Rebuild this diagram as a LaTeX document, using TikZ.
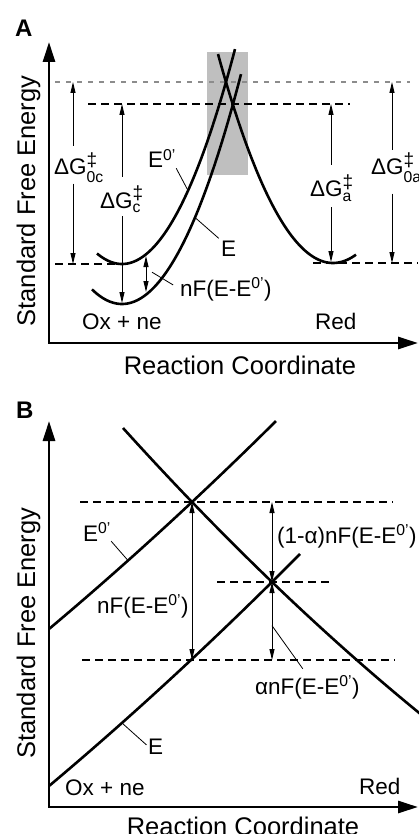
\documentclass[tikz,border=0pt]{standalone}
\usepackage{amsmath}
\usepackage{fontspec}
\setmainfont{Liberation Sans}
\definecolor{boxgray}{RGB}{191,191,191}
\definecolor{linegray}{RGB}{140,140,140}
\usetikzlibrary{arrows.meta,calc}
\newcommand{\dagg}{\mbox{\fontsize{19}{19}\selectfont ‡}}

\begin{document}
\begin{tikzpicture}[x=1pt,y=-1pt]
  \tikzstyle{axisline}=[line width=2.8pt,{Triangle[length=20pt,width=12pt]}-{Triangle[length=20pt,width=12pt]}]
  \tikzstyle{curve}=[line width=2.6pt]
  \tikzstyle{dgarrow}=[line width=1pt,-{Triangle[length=11pt,width=5pt]}]
  \tikzstyle{dblarrow}=[line width=1pt,{Triangle[length=11pt,width=5pt]}-{Triangle[length=11pt,width=5pt]}]
  \tikzstyle{lvl}=[line width=1.2pt,dash pattern=on 8pt off 5pt]
  \tikzstyle{lvlgray}=[line width=1.2pt,draw=linegray,dash pattern=on 5pt off 6pt]
  \tikzstyle{leader}=[line width=0.8pt]
  \tikzstyle{lbl}=[font=\fontsize{22.5}{27}\selectfont,inner sep=0pt,anchor=base west]
  \tikzstyle{axlbl}=[font=\fontsize{25.5}{30}\selectfont,inner sep=0pt,anchor=base]
  \tikzstyle{panel}=[font=\fontsize{24}{28}\selectfont\bfseries,inner sep=0pt,anchor=base west]

  \useasboundingbox (0,0) rectangle (418,834);

  % panel A
  \node[panel] (labA) at (15,37) {A};
  \node[fill=boxgray,inner sep=0pt,minimum width=41pt,minimum height=123pt] (crossbox) at (227.5,113.5) {};

  \coordinate (oA) at (49,343);
  \coordinate (yA) at (49,42);
  \coordinate (xA) at (418,343);
  \draw[axisline] (yA) -- (oA) -- (xA);

  \draw[lvlgray] (55,82) -- (410,82);
  \draw[lvl] (88,104) -- (350,104);
  \draw[lvl] (55,264) -- (128,264);
  \draw[lvl] (313,263) -- (418,263);

  \draw[curve] plot[domain=97:235,samples=80] (\x,{264-168.3*((\x-122)/100)^2});
  \draw[curve] plot[domain=92:241,samples=80] (\x,{304-162.3*((\x-122)/100)^2});
  \draw[curve] plot[domain=218:356,samples=80] (\x,{263-158*((\x-333)/100)^2});

  \node[lbl] (dg0c) at (54,175) {ΔG$^{\dagg}_{\text{0c}}$};
  \coordinate (dg0ctop) at (73,82);
  \coordinate (dg0cbot) at (73,264);
  \draw[dgarrow,shorten <=7pt] (dg0c.north -| dg0ctop) -- (dg0ctop);
  \draw[dgarrow,shorten <=1pt] (dg0c.south -| dg0cbot) -- (dg0cbot);

  \node[lbl] (dgc) at (100,208) {ΔG$^{\dagg}_{\text{c}}$};
  \coordinate (dgctop) at (122,104);
  \coordinate (dgcbot) at (122,303);
  \draw[dgarrow,shorten <=9pt] (dgc.north -| dgctop) -- (dgctop);
  \draw[dgarrow,shorten <=3pt] (dgc.south -| dgcbot) -- (dgcbot);

  \node[lbl] (dga) at (310,197) {ΔG$^{\dagg}_{\text{a}}$};
  \coordinate (dgatop) at (331,104);
  \coordinate (dgabot) at (331,262);
  \draw[dgarrow,shorten <=10pt] (dga.north -| dgatop) -- (dgatop);
  \draw[dgarrow,shorten <=5pt] (dga.south -| dgabot) -- (dgabot);

  \node[lbl] (dg0a) at (371,175) {ΔG$^{\dagg}_{\text{0a}}$};
  \coordinate (dg0atop) at (392,82);
  \coordinate (dg0abot) at (392,263);
  \draw[dgarrow,shorten <=3pt] (dg0a.north -| dg0atop) -- (dg0atop);
  \draw[dgarrow,shorten <=11pt] (dg0a.south -| dg0abot) -- (dg0abot);

  \node[lbl] (e0A) at (148,168) {E$^{\text{0’}}$};
  \coordinate (e0Apt) at (188,190.5);
  \draw[leader] (e0A.south east) -- (e0Apt);

  \node[lbl] (eA) at (221,256) {E};
  \coordinate (eApt) at (195,217.5);
  \draw[leader,shorten >=3pt] (eApt) -- (eA.north west);

  \node[lbl] (nfA) at (180,296) {nF(E-E$^{\text{0’}}$)};
  \coordinate (nfAtop) at (146,256);
  \coordinate (nfAbot) at (146,292);
  \draw[dblarrow] (nfAtop) -- (nfAbot);
  \draw[leader,shorten >=8pt] ($(nfAtop)!0.45!(nfAbot)+(6,0)$) -- (nfA.west);

  \node[lbl] (oxA) at (82,329) {Ox + ne};
  \node[lbl] (redA) at (315,329) {Red};
  \node[axlbl] (rcA) at (240,374) {Reaction Coordinate};
  \node[axlbl,rotate=90] (sfeA) at (35,201) {Standard Free Energy};

  % panel B
  \node[panel] (labB) at (16,418) {B};

  \coordinate (oB) at (49,807);
  \coordinate (yB) at (49,421);
  \coordinate (xB) at (418,807);
  \draw[axisline] (yB) -- (oB) -- (xB);

  \draw[lvl] (80,502) -- (393,502);
  \draw[lvl] (217,582) -- (331,582);
  \draw[lvl] (82,660) -- (395,660);

  \draw[curve] plot[domain=49:276,samples=60] (\x,{629-0.84*(\x-49)-3.36*((\x-49)/100)^2});
  \draw[curve] plot[domain=49:300,samples=60] (\x,{786-0.84*(\x-49)-3.36*((\x-49)/100)^2});
  \draw[curve] plot[domain=123:420,samples=60] (\x,{502+1.0388*(\x-192)-4.85*((\x-192)/100)^2});

  \coordinate (cr1) at (192,502);
  \coordinate (lo1) at (192,660);
  \coordinate (hi2) at (272,502);
  \coordinate (cr2) at (272,582);
  \coordinate (lo2) at (272,660);
  \draw[dblarrow] (cr1) -- (lo1);
  \draw[dblarrow] (hi2) -- (cr2);
  \draw[dblarrow] (cr2) -- (lo2);

  \node[lbl] (nfB) at (97,613) {nF(E-E$^{\text{0’}}$)};
  \node[lbl] (nf1B) at (277,543) {(1-α)nF(E-E$^{\text{0’}}$)};
  \node[lbl] (nfaB) at (255,694) {αnF(E-E$^{\text{0’}}$)};
  \draw[leader,shorten >=8pt] ($(cr2)!0.56!(lo2)$) -- (nfaB.north);

  \node[lbl] (e0B) at (83,541) {E$^{\text{0’}}$};
  \coordinate (e0Bpt) at (128,560.5);
  \draw[leader] (e0B.south east) -- (e0Bpt);

  \node[lbl] (eB) at (148,754) {E};
  \coordinate (eBpt) at (122,723);
  \draw[leader,shorten >=2pt] (eBpt) -- (eB.west);

  \node[lbl] (oxB) at (65,795) {Ox + ne};
  \node[lbl] (redB) at (359,794) {Red};
  \node[axlbl] (rcB) at (243,835) {Reaction Coordinate};
  \node[axlbl,rotate=90] (sfeB) at (35,633) {Standard Free Energy};
\end{tikzpicture}
\end{document}
